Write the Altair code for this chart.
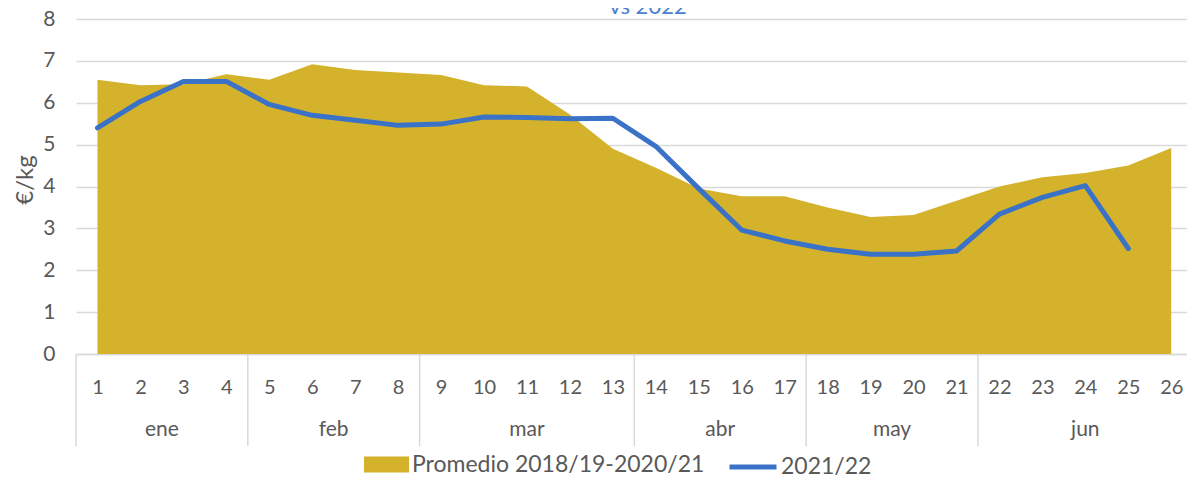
import altair as alt
import pandas as pd

# ---------------- data ----------------
weeks = list(range(1, 27))
promedio = [6.55, 6.42, 6.44, 6.68, 6.55, 6.92, 6.78, 6.72, 6.66, 6.42, 6.39, 5.72, 4.90,
            4.45, 3.95, 3.77, 3.77, 3.50, 3.27, 3.32, 3.66, 4.00, 4.22, 4.32, 4.50, 4.92]
weeks_2122 = list(range(1, 26))
serie_2122 = [5.40, 6.03, 6.51, 6.51, 5.96, 5.70, 5.58, 5.46, 5.49, 5.66, 5.65, 5.62, 5.63,
              4.96, 3.95, 2.96, 2.70, 2.50, 2.38, 2.38, 2.46, 3.34, 3.74, 4.02, 2.52]
months = ["ene", "feb", "mar", "abr", "may", "jun"]
month_center = [2.5, 6.5, 11, 15.5, 19.5, 24]
month_bounds = [0.5, 4.5, 8.5, 13.5, 17.5, 21.5]
y_ticks = list(range(0, 9))
name_prom = "Promedio 2018/19-2020/21"
name_2122 = "2021/22"
title_text = ["vs 2022"]

# ---------------- style ----------------
FONT = "Lato"
GOLD = "#D4B22C"
BLUE = "#3A72C8"
GREY = "#595959"
LIGHT = "#D9D9D9"
TITLE_BLUE = "#4A7FD0"

PAD_L = 68.0
PAD_T = 11
W = 1111.0
H = 335
SVG_W = 1179
SVG_H = 470
STEP = 42.95
XMAX = 0.5 + W / STEP

xscale = alt.Scale(domain=[0.5, XMAX], nice=False, zero=False)
yscale = alt.Scale(domain=[0, 8], nice=False, zero=True)

x_axis = alt.Axis(values=weeks, format="d", grid=False, ticks=False, tickSize=0,
                  domain=True, domainColor=LIGHT, domainWidth=1.5,
                  labelFont=FONT, labelFontSize=20, labelColor=GREY,
                  labelBaseline="middle", labelPadding=33, labelFlush=False,
                  labelOverlap=False, title=None)
y_axis = alt.Axis(values=y_ticks, format="d", grid=True, gridColor=LIGHT, gridWidth=1.5,
                  domain=False, ticks=False, tickSize=0,
                  labelFont=FONT, labelFontSize=21, labelColor=GREY, labelPadding=21,
                  title="€/kg", titleFont=FONT, titleFontSize=24, titleFontWeight="normal",
                  titleColor=GREY, titleX=-51, titleY=H / 2 - 7, titleAlign="center",
                  titleBaseline="middle", titleAngle=270)

df_a = pd.DataFrame({"semana": weeks, "precio": promedio, "serie_a": name_prom})
df_l = pd.DataFrame({"semana": weeks_2122, "precio": serie_2122, "serie_l": name_2122})
df_m = pd.DataFrame({"semana": month_center, "mes": months})
df_b = pd.DataFrame({"semana": month_bounds})
df_t = pd.DataFrame({"t": title_text})

area = alt.Chart(df_a).mark_area(opacity=1, interpolate="linear").encode(
    x=alt.X("semana:Q", scale=xscale, axis=x_axis),
    y=alt.Y("precio:Q", scale=yscale, axis=y_axis),
    fill=alt.Fill("serie_a:N", scale=alt.Scale(domain=[name_prom], range=[GOLD]),
                  legend=alt.Legend(orient="none", legendX=288, legendY=423, title=None,
                                    symbolType="M-1,-0.36H1V0.36H-1Z", symbolSize=2025,
                                    symbolStrokeWidth=0, symbolOpacity=1,
                                    labelFont=FONT, labelFontSize=23, labelColor=GREY,
                                    labelOffset=3, labelLimit=0)),
)

line = alt.Chart(df_l).mark_line(strokeWidth=5, strokeCap="round", strokeJoin="round").encode(
    x=alt.X("semana:Q", scale=xscale, axis=x_axis),
    y=alt.Y("precio:Q", scale=yscale, axis=y_axis),
    stroke=alt.Stroke("serie_l:N", scale=alt.Scale(domain=[name_2122], range=[BLUE]),
                      legend=alt.Legend(orient="none", legendX=651, legendY=422, title=None,
                                        symbolType="stroke", symbolSize=2209,
                                        symbolStrokeWidth=5,
                                        labelFont=FONT, labelFontSize=23, labelColor=GREY,
                                        labelOffset=2, labelLimit=0)),
)

month_text = alt.Chart(df_m).mark_text(font=FONT, fontSize=21, color=GREY, baseline="middle").encode(
    x=alt.X("semana:Q", scale=xscale, axis=x_axis),
    y=alt.value(H + 76),
    text="mes:N",
)

separators = alt.Chart(df_b).mark_rule(color=LIGHT, strokeWidth=1.5).encode(
    x=alt.X("semana:Q", scale=xscale, axis=x_axis),
    y=alt.value(H),
    y2=alt.value(H + 92),
)

title = alt.Chart(df_t).mark_text(font=FONT, fontSize=22, color=TITLE_BLUE,
                                   baseline="alphabetic", align="center").encode(
    x=alt.value(572),
    y=alt.value(-5),
    text="t:N",
)

chart = alt.layer(separators, area, line, month_text, title).properties(
    width=W, height=H,
    autosize=alt.AutoSizeParams(type="none"),
    padding={"left": PAD_L, "top": PAD_T, "right": SVG_W - PAD_L - W,
             "bottom": SVG_H - PAD_T - H},
    background="white",
).configure_view(stroke=None)

chart.save("out.html", embed_options={"renderer": "svg", "actions": False})
